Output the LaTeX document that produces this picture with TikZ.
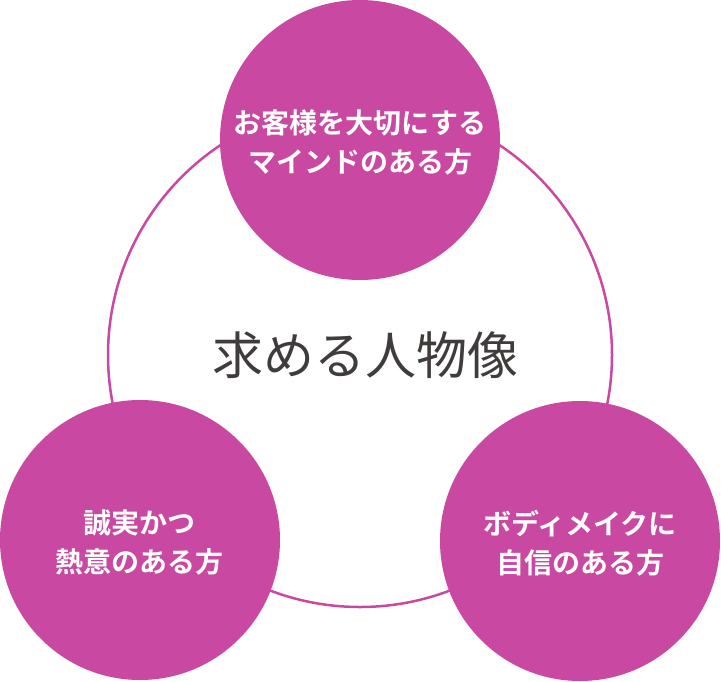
\documentclass[tikz,border=0pt]{standalone}
\usepackage{fontspec}
\newfontfamily\jpfont{Noto Sans CJK JP}
\newfontfamily\jpbold{Noto Sans CJK JP Bold}
\definecolor{mag}{RGB}{201,72,162}
\definecolor{ink}{RGB}{64,60,60}
\begin{document}
\begin{tikzpicture}[x=1pt,y=-1pt,
  bubble/.style={circle,fill=mag,minimum size=280pt,inner sep=0pt},
  bubbletext/.style={text=white,align=center,font=\jpbold\fontsize{28}{39}\selectfont},
  ring/.style={draw=mag,line width=2.5pt}]
\useasboundingbox (0,0) rectangle (721,681);
\node[circle,ring,minimum size=504pt,inner sep=0pt] (ring) at (360,355) {};
\node[bubble] (top) at (360,140) {};
\node[bubble] (left) at (140,540) {};
\node[bubble] (right) at (580,541) {};
\node[bubbletext] (toptext) at (360,142) {お客様を大切にする\\マインドのある方};
\node[bubbletext] (lefttext) at (140,542) {誠実かつ\\熱意のある方};
\node[bubbletext] (righttext) at (580,543) {ボディメイクに\\自信のある方};
\node[text=ink,font=\jpfont\fontsize{51}{56}\selectfont] (title) at (365,355) {求める人物像};
\end{tikzpicture}
\end{document}
